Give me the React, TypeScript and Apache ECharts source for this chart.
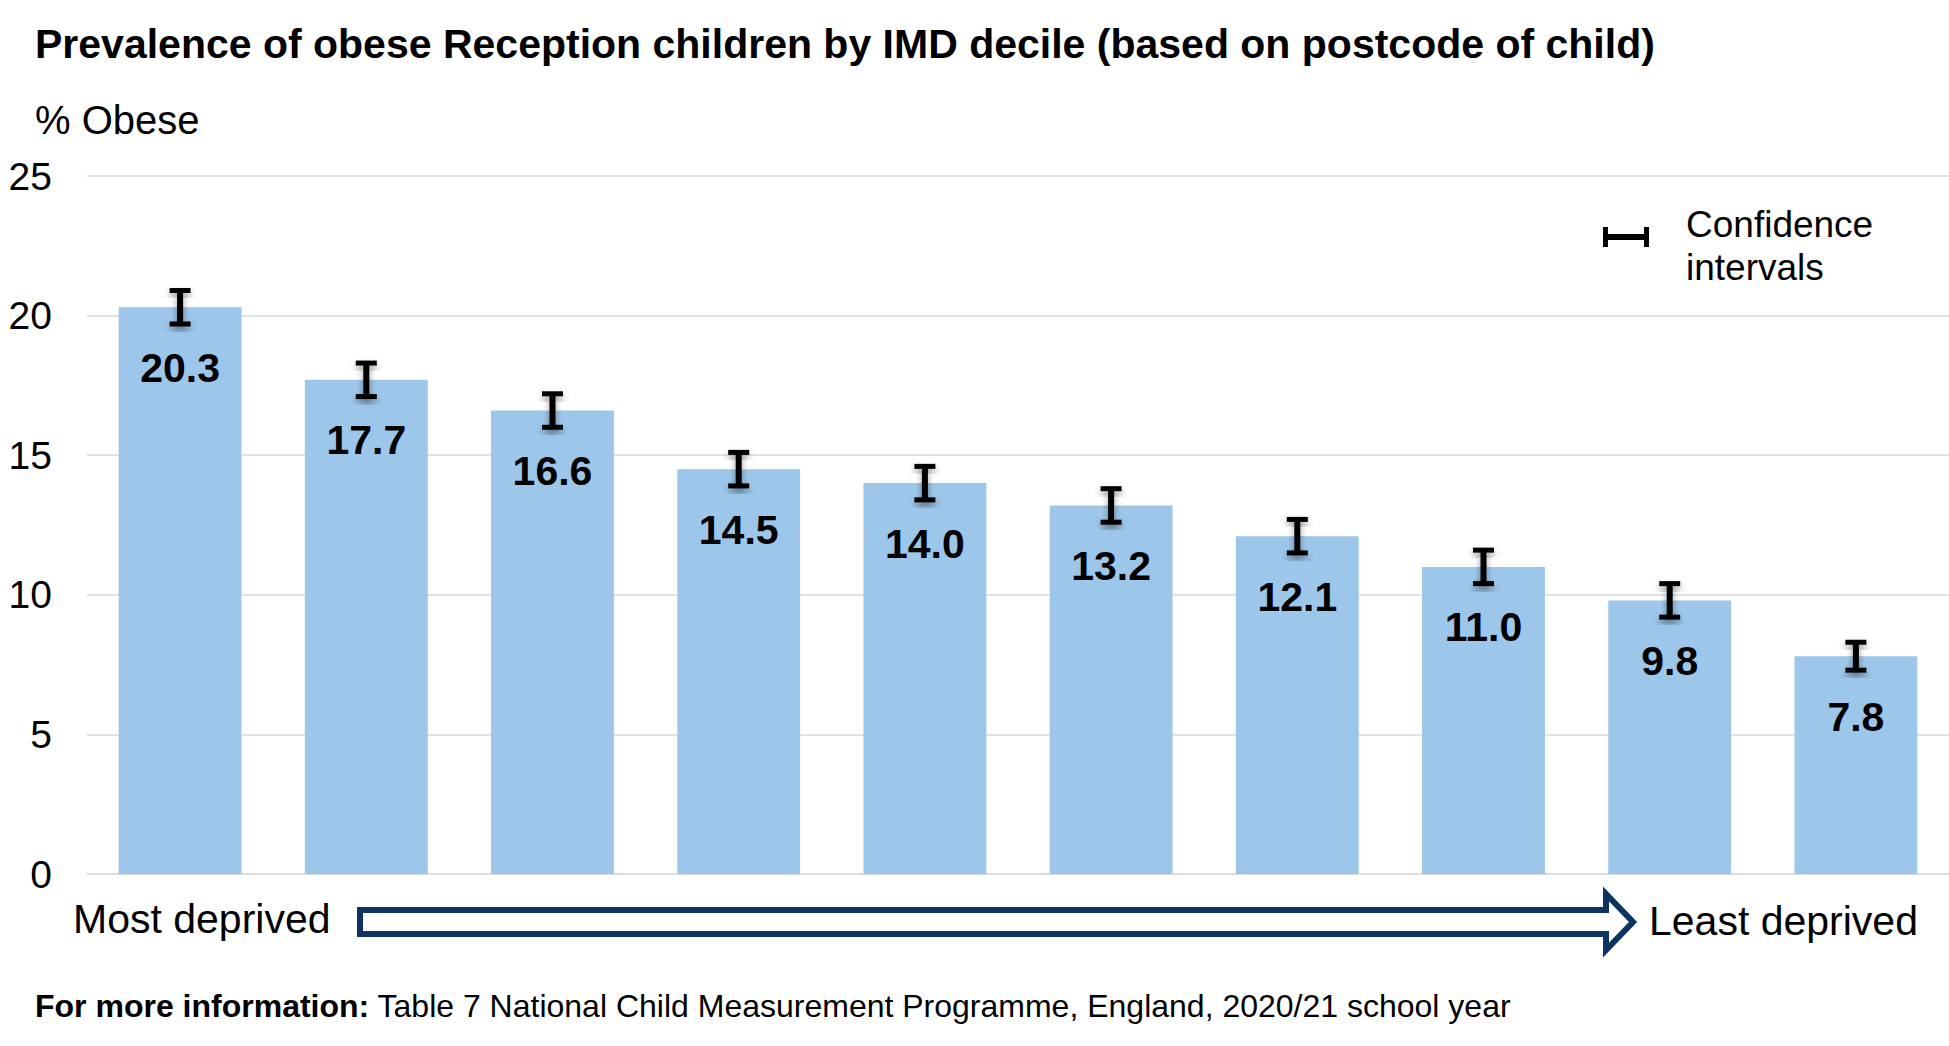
import React, { useEffect, useRef } from "react";
import * as echarts from "echarts";

const TITLE = "Prevalence of obese Reception children by IMD decile (based on postcode of child)";
const Y_NAME = "% Obese";
const deciles = ["1", "2", "3", "4", "5", "6", "7", "8", "9", "10"];
const obesePct = [20.3, 17.7, 16.6, 14.5, 14.0, 13.2, 12.1, 11.0, 9.8, 7.8];
const ciLower = [19.7, 17.1, 16.0, 13.9, 13.4, 12.6, 11.5, 10.4, 9.2, 7.3];
const ciUpper = [20.9, 18.3, 17.2, 15.1, 14.6, 13.8, 12.7, 11.6, 10.4, 8.3];
const Y_MIN = 0;
const Y_MAX = 25;
const Y_STEP = 5;
const LEGEND_LINES = ["Confidence", "intervals"];
const LEFT_NOTE = "Most deprived";
const RIGHT_NOTE = "Least deprived";
const FOOT_BOLD = "For more information:";
const FOOT_TEXT = " Table 7 National Child Measurement Programme, England, 2020/21 school year";

const FONT = "'Liberation Sans', Arial, Helvetica, sans-serif";
const BAR_COLOR = "#9dc7ea";
const NAVY = "#0b3461";

export default function App() {
  const ref = useRef<HTMLDivElement>(null);

  useEffect(() => {
    document.body.style.margin = "0";
    if (!ref.current) return;
    const chart = echarts.init(ref.current, undefined, { renderer: "svg" });

    const errStyle = {
      fill: "#000",
      shadowBlur: 7,
      shadowColor: "rgba(0,0,0,0.4)",
      shadowOffsetY: 4,
    };

    const option: any = {
      animation: false,
      backgroundColor: "#fff",
      textStyle: { fontFamily: FONT },
      title: {
        text: TITLE,
        left: 35,
        top: 23,
        padding: 0,
        textStyle: { fontFamily: FONT, fontSize: 41, fontWeight: "bold", color: "#000", lineHeight: 41 },
      },
      grid: { left: 87, right: 0, top: 176, bottom: 172, containLabel: false },
      xAxis: {
        type: "category",
        data: deciles,
        axisLine: { show: true, lineStyle: { color: "#d9d9d9", width: 1.5 } },
        axisTick: { show: false },
        axisLabel: { show: false },
      },
      yAxis: {
        type: "value",
        min: Y_MIN,
        max: Y_MAX,
        interval: Y_STEP,
        axisLine: { show: false },
        axisTick: { show: false },
        splitLine: { lineStyle: { color: "#d9d9d9", width: 1.5 } },
        axisLabel: { fontFamily: FONT, fontSize: 39, color: "#000", margin: 35 },
      },
      series: [
        {
          type: "bar",
          data: obesePct,
          barCategoryGap: "34%",
          itemStyle: { color: BAR_COLOR },
          label: {
            show: true,
            position: "insideTop",
            distance: 40,
            fontFamily: FONT,
            fontSize: 41,
            fontWeight: "bold",
            color: "#000",
            lineHeight: 41,
            formatter: (p: any) => Number(p.value).toFixed(1),
          },
          z: 2,
        },
        {
          type: "custom",
          coordinateSystem: "cartesian2d",
          z: 5,
          data: deciles.map((_, i) => [i, ciLower[i], ciUpper[i]]),
          encode: { x: 0, y: [1, 2] },
          renderItem: (_params: any, api: any) => {
            const idx = api.value(0);
            const top = api.coord([idx, api.value(2)]);
            const bot = api.coord([idx, api.value(1)]);
            const hw = 10.5;
            const stemW = 6;
            const capH = 5;
            return {
              type: "group",
              children: [
                {
                  type: "rect",
                  shape: { x: top[0] - stemW / 2, y: top[1], width: stemW, height: bot[1] - top[1] },
                  style: errStyle,
                },
                {
                  type: "rect",
                  shape: { x: top[0] - hw, y: top[1] - capH / 2, width: hw * 2, height: capH },
                  style: errStyle,
                },
                {
                  type: "rect",
                  shape: { x: bot[0] - hw, y: bot[1] - capH / 2, width: hw * 2, height: capH },
                  style: errStyle,
                },
              ],
            };
          },
        },
      ],
      graphic: [
        {
          type: "text",
          left: 35,
          top: 100,
          style: { text: Y_NAME, fontFamily: FONT, fontSize: 40, fill: "#000" },
        },
        {
          type: "group",
          children: [
            { type: "rect", shape: { x: 1603, y: 234, width: 46, height: 6 }, style: { fill: "#000" } },
            { type: "rect", shape: { x: 1603, y: 227, width: 5, height: 20 }, style: { fill: "#000" } },
            { type: "rect", shape: { x: 1644, y: 227, width: 5, height: 20 }, style: { fill: "#000" } },
          ],
        },
        {
          type: "text",
          x: 1686,
          y: 203,
          style: { text: LEGEND_LINES.join("\n"), fontFamily: FONT, fontSize: 37, lineHeight: 43, fill: "#000" },
        },
        {
          type: "text",
          x: 73,
          y: 919,
          style: { text: LEFT_NOTE, fontFamily: FONT, fontSize: 41, fill: "#000", textVerticalAlign: "middle" },
        },
        {
          type: "text",
          x: 1649,
          y: 921,
          style: { text: RIGHT_NOTE, fontFamily: FONT, fontSize: 41, fill: "#000", textVerticalAlign: "middle" },
        },
        {
          type: "polygon",
          shape: {
            points: [
              [360, 910],
              [1606, 910],
              [1606, 894],
              [1633, 922],
              [1606, 950],
              [1606, 934],
              [360, 934],
            ],
          },
          style: { fill: "#fff", stroke: NAVY, lineWidth: 6, lineJoin: "miter" },
        },
        {
          type: "text",
          x: 35,
          y: 1006,
          style: {
            text: "{b|" + FOOT_BOLD + "}{r|" + FOOT_TEXT + "}",
            textVerticalAlign: "middle",
            rich: {
              b: { fontFamily: FONT, fontSize: 32, fontWeight: "bold", fill: "#000" },
              r: { fontFamily: FONT, fontSize: 32, fill: "#000" },
            },
          },
        },
      ],
    };

    chart.setOption(option);
    return () => chart.dispose();
  }, []);

  return <div ref={ref} style={{ width: 1949, height: 1046 }} />;
}
